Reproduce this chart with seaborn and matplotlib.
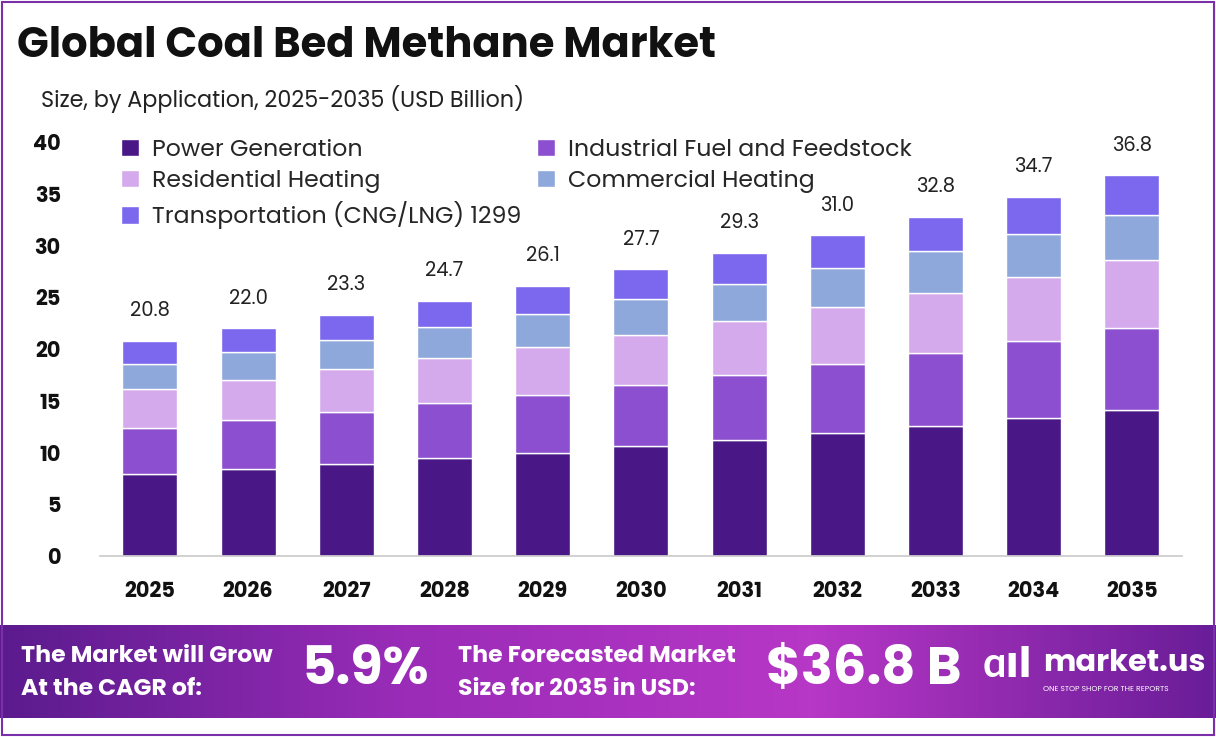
import matplotlib
matplotlib.use("Agg")
import matplotlib.pyplot as plt
import seaborn as sns
import numpy as np
import pandas as pd
from matplotlib.patches import Rectangle
from matplotlib.colors import LinearSegmentedColormap

years = ["2025","2026","2027","2028","2029","2030","2031","2032","2033","2034","2035"]
totals = [20.8,22.0,23.3,24.7,26.1,27.7,29.3,31.0,32.8,34.7,36.8]
power = [7.9,8.4,8.9,9.5,10.0,10.6,11.2,11.9,12.6,13.3,14.1]
industrial = [4.5,4.7,5.0,5.3,5.6,5.9,6.3,6.7,7.0,7.5,7.9]
residential = [3.7,3.9,4.2,4.3,4.6,4.9,5.2,5.5,5.8,6.2,6.6]
commercial = [2.5,2.7,2.8,3.0,3.2,3.4,3.6,3.7,4.1,4.1,4.4]
transport = [round(t-(a+b+c+d),1) for t,a,b,c,d in zip(totals,power,industrial,residential,commercial)]

series = [("Power Generation", power, "#4A1786"),
          ("Industrial Fuel and Feedstock", industrial, "#8B4FCF"),
          ("Residential Heating", residential, "#D5AAEC"),
          ("Commercial Heating", commercial, "#8FA8DC"),
          ("Transportation (CNG/LNG) 1299", transport, "#7B68EE")]

sns.set_theme(style="white")
plt.rcParams['font.family'] = ['Poppins', 'Lato', 'DejaVu Sans']
fig = plt.figure(figsize=(12.16, 7.37), dpi=100)
fig.patch.set_facecolor("white")
fig.patches.append(Rectangle((0.002, 0.003), 0.996, 0.994, transform=fig.transFigure,
                             fill=False, edgecolor="#7B2FA8", linewidth=1.5))

ax = fig.add_axes([0.082, 0.2456, 0.89, 0.5614])
bottom = np.zeros(len(years))
for name, vals, col in series:
    df = pd.DataFrame({"year": years, "v": vals})
    sns.barplot(data=df, x="year", y="v", bottom=bottom, color=col, width=0.56,
                ax=ax, saturation=1, label=name)
    bottom = bottom + np.array(vals)
for i, t in enumerate(totals):
    ax.text(i, t + 1.9, f"{t:.1f}", ha="center", va="bottom", fontsize=14, color="#222222")

ax.set_ylim(0, 40)
ax.set_xlim(-0.51, 10.51)
ax.set_yticks(range(0, 41, 5))
ax.tick_params(axis="both", length=0, labelsize=15)
for lab in ax.get_xticklabels() + ax.get_yticklabels():
    lab.set_fontweight("bold")
    lab.set_color("#111111")
ax.tick_params(axis="x", pad=18)
ax.tick_params(axis="y", pad=28)
ax.set_xlabel(""); ax.set_ylabel("")
for s in ["top", "right", "left"]:
    ax.spines[s].set_visible(False)
ax.spines["bottom"].set_color("#CCCCCC")
h, l = ax.get_legend_handles_labels()
order = [0, 2, 4, 1, 3]
ax.legend([h[i] for i in order], [l[i] for i in order], loc="upper left", ncol=2,
          frameon=False, fontsize=17, bbox_to_anchor=(-0.0, 1.06),
          columnspacing=0.7, handlelength=0.75, handleheight=0.75,
          labelspacing=0.35, handletextpad=0.55)

fig.text(0.014, 0.922, "Global Coal Bed Methane Market", fontsize=30, fontweight="bold", color="#111111")
fig.text(0.034, 0.855, "Size, by Application, 2025-2035 (USD Billion)", fontsize=16, color="#222222")

bax = fig.add_axes([0.0, 0.026, 1.0, 0.126])
grad = np.linspace(0, 1, 256).reshape(1, -1)
cmap = LinearSegmentedColormap.from_list("b", ["#5B1B8E", "#9A2CB8", "#B737C6", "#6A1D98"])
bax.imshow(grad, aspect="auto", cmap=cmap, extent=[0, 1, 0, 1])
bax.set_axis_off()
bax.text(0.017, 0.66, "The Market will Grow", color="white", fontsize=17, fontweight="bold", va="center")
bax.text(0.017, 0.30, "At the CAGR of:", color="white", fontsize=17, fontweight="bold", va="center")
bax.text(0.248, 0.50, "5.9%", color="white", fontsize=38, fontweight="bold", va="center")
bax.text(0.377, 0.66, "The Forecasted Market", color="white", fontsize=17, fontweight="bold", va="center")
bax.text(0.377, 0.30, "Size for 2035 in USD:", color="white", fontsize=17, fontweight="bold", va="center")
bax.text(0.630, 0.50, "$36.8 B", color="white", fontsize=38, fontweight="bold", va="center")
bax.text(0.808, 0.55, "ɑıl", color="white", fontsize=30, fontweight="bold", va="center")
bax.text(0.858, 0.58, "market.us", color="white", fontsize=22, fontweight="bold", va="center")
bax.text(0.858, 0.30, "ONE STOP SHOP FOR THE REPORTS", color="white", fontsize=5.5, va="center")
bax.set_xlim(0, 1); bax.set_ylim(0, 1)

fig.savefig("out.png", dpi=100)
